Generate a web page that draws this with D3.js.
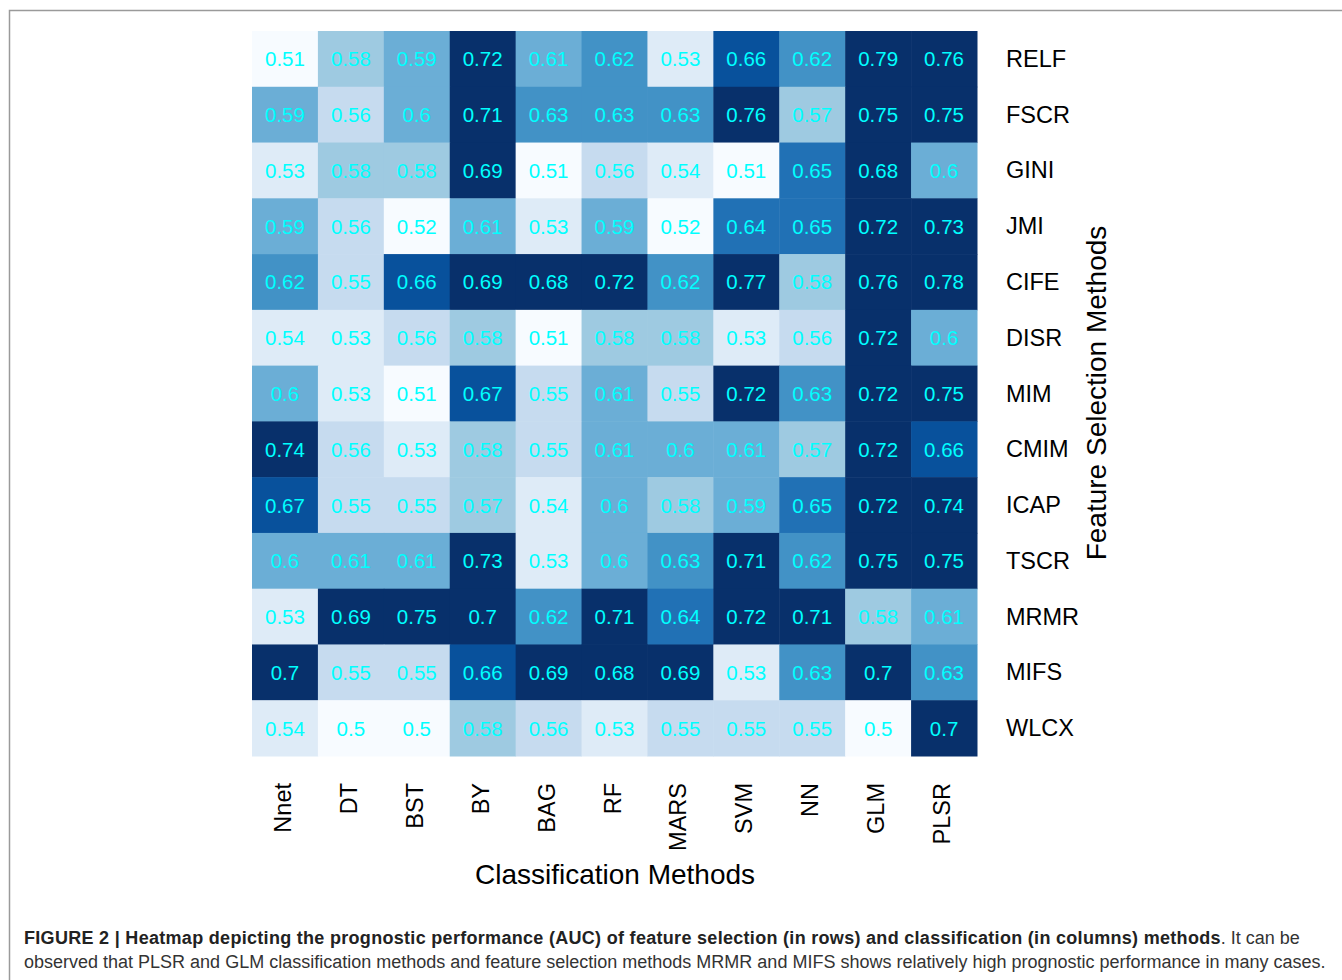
<!DOCTYPE html>
<html><head><meta charset="utf-8">
<script src="https://cdn.jsdelivr.net/npm/d3@7"></script>
<style>
html,body{margin:0;padding:0;background:#fff;}
svg{display:block;font-family:"Liberation Sans",Arial,Helvetica,sans-serif;}
</style></head>
<body>
<svg id="chart" width="1342" height="980"></svg>
<script>
const classifiers = ["Nnet","DT","BST","BY","BAG","RF","MARS","SVM","NN","GLM","PLSR"];
const featureMethods = ["RELF","FSCR","GINI","JMI","CIFE","DISR","MIM","CMIM","ICAP","TSCR","MRMR","MIFS","WLCX"];
const aucRELF = [0.51,0.58,0.59,0.72,0.61,0.62,0.53,0.66,0.62,0.79,0.76];
const aucFSCR = [0.59,0.56,0.6,0.71,0.63,0.63,0.63,0.76,0.57,0.75,0.75];
const aucGINI = [0.53,0.58,0.58,0.69,0.51,0.56,0.54,0.51,0.65,0.68,0.6];
const aucJMI  = [0.59,0.56,0.52,0.61,0.53,0.59,0.52,0.64,0.65,0.72,0.73];
const aucCIFE = [0.62,0.55,0.66,0.69,0.68,0.72,0.62,0.77,0.58,0.76,0.78];
const aucDISR = [0.54,0.53,0.56,0.58,0.51,0.58,0.58,0.53,0.56,0.72,0.6];
const aucMIM  = [0.6,0.53,0.51,0.67,0.55,0.61,0.55,0.72,0.63,0.72,0.75];
const aucCMIM = [0.74,0.56,0.53,0.58,0.55,0.61,0.6,0.61,0.57,0.72,0.66];
const aucICAP = [0.67,0.55,0.55,0.57,0.54,0.6,0.58,0.59,0.65,0.72,0.74];
const aucTSCR = [0.6,0.61,0.61,0.73,0.53,0.6,0.63,0.71,0.62,0.75,0.75];
const aucMRMR = [0.53,0.69,0.75,0.7,0.62,0.71,0.64,0.72,0.71,0.58,0.61];
const aucMIFS = [0.7,0.55,0.55,0.66,0.69,0.68,0.69,0.53,0.63,0.7,0.63];
const aucWLCX = [0.54,0.5,0.5,0.58,0.56,0.53,0.55,0.55,0.55,0.5,0.7];
const rows = [aucRELF,aucFSCR,aucGINI,aucJMI,aucCIFE,aucDISR,aucMIM,aucCMIM,aucICAP,aucTSCR,aucMRMR,aucMIFS,aucWLCX];
const colorThresholds = [0.525,0.545,0.565,0.585,0.615,0.635,0.655,0.675];

const cells = [];
rows.forEach((r,i)=>r.forEach((v,j)=>cells.push({row:featureMethods[i],col:classifiers[j],v})));

const svg = d3.select("#chart");
// frame
svg.append("path").attr("d","M9.5,980 L9.5,10.5 L1342,10.5").attr("fill","none").attr("stroke","#9a9a9a").attr("stroke-width",1.5);

const x = d3.scaleBand().domain(classifiers).range([252,977]);
const y = d3.scaleBand().domain(featureMethods).range([31,756]);
const color = d3.scaleThreshold().domain(colorThresholds).range(d3.schemeBlues[9]);

const g = svg.append("g");
g.selectAll("rect").data(cells).join("rect")
  .attr("x",d=>x(d.col)).attr("y",d=>y(d.row))
  .attr("width",x.bandwidth()+0.5).attr("height",y.bandwidth()+0.5)
  .attr("fill",d=>color(d.v));
g.selectAll("text.val").data(cells).join("text").attr("class","val")
  .attr("x",d=>x(d.col)+x.bandwidth()/2).attr("y",d=>y(d.row)+y.bandwidth()/2)
  .attr("text-anchor","middle").attr("dominant-baseline","central")
  .attr("fill","#00ffff").attr("font-size",20.5)
  .text(d=>String(d.v));

// row labels
svg.append("g").selectAll("text").data(featureMethods).join("text")
  .attr("x",1006).attr("y",d=>y(d)+y.bandwidth()/2)
  .attr("dominant-baseline","central").attr("font-size",23.5).attr("fill","#000")
  .text(d=>d);
// column labels
svg.append("g").selectAll("text").data(classifiers).join("text")
  .attr("transform",d=>`translate(${x(d)+x.bandwidth()/2 - 2},783) rotate(-90)`)
  .attr("text-anchor","end").attr("dominant-baseline","central")
  .attr("font-size",23.5).attr("fill","#000")
  .text(d=>d);

svg.append("text").attr("x",615).attr("y",884).attr("text-anchor","middle")
  .attr("font-size",28).attr("fill","#000").text("Classification Methods");
svg.append("text").attr("transform","translate(1106,393) rotate(-90)").attr("text-anchor","middle")
  .attr("font-size",28).attr("fill","#000").text("Feature Selection Methods");

const cap = svg.append("text").attr("x",24).attr("y",944).attr("font-size",18).attr("fill","#333");
cap.append("tspan").attr("font-weight","bold").attr("fill","#222").attr("letter-spacing",0.3)
  .text("FIGURE 2 | Heatmap depicting the prognostic performance (AUC) of feature selection (in rows) and classification (in columns) methods");
cap.append("tspan").text(". It can be");
svg.append("text").attr("x",24).attr("y",968).attr("font-size",18).attr("fill","#333")
  .text("observed that PLSR and GLM classification methods and feature selection methods MRMR and MIFS shows relatively high prognostic performance in many cases.");
</script>
</body></html>
